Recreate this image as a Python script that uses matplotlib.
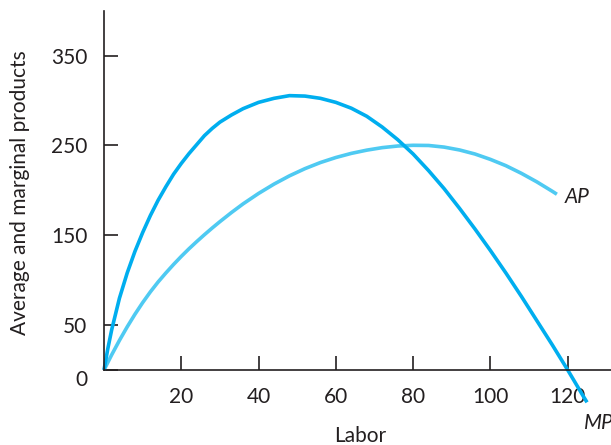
import matplotlib
matplotlib.use("Agg")
import matplotlib.pyplot as plt
import matplotlib.transforms as mtransforms

plt.rcParams["font.family"] = ["Lato", "DejaVu Sans"]

# Marginal product of labor
labor_mp = [0, 1, 2, 4, 6, 8, 10, 12, 14, 16, 18, 20, 22, 24, 26, 28, 30,
            33, 36, 40, 44, 48, 52, 56, 60, 64, 68, 72, 76, 80, 84, 88, 92,
            96, 100, 104, 108, 112, 116, 120, 124, 125]
mp = [0, 24, 45, 80, 108, 132, 153, 172, 189, 204, 218, 230, 241, 251, 261,
      269, 276, 284, 291, 298, 302.5, 305.5, 305, 302.5, 298, 291.5, 282.5,
      270.5, 256.5, 240.5, 222, 202, 180, 157, 133, 108, 82, 55, 28, 0, -29,
      -36]

# Average product of labor
labor_ap = [0, 2, 4, 6, 8, 10, 12, 14, 16, 18, 20, 22, 24, 26, 28, 30,
            33, 36, 40, 44, 48, 52, 56, 60, 64, 68, 72, 76, 80, 84, 88, 92,
            96, 100, 104, 108, 112, 116, 117.2]
ap = [0, 17, 33, 48, 62, 75, 87, 98, 108, 117.5, 126.5, 135, 143, 150.7,
      158.1, 165.2, 175.4, 185, 196.6, 207, 216.2, 224.2, 231, 236.6, 241.2,
      244.8, 247.6, 249.4, 250.2, 250, 248.2, 245, 240.5, 234.5, 227.5, 219,
      209.5, 199, 195.7]

x_ticks = [20, 40, 60, 80, 100, 120]
y_ticks = [0, 50, 150, 250, 350]

mp_color = "#00AEEF"
ap_color = "#4FCAF2"
ink = "#231F20"

fig = plt.figure(figsize=(6.11, 4.45), dpi=100)
ax = fig.add_axes([104 / 611, 0.0838, 1 - 104 / 611, 0.892])
ax.set_xlim(0, 131.2)
ax.set_ylim(-42, 400)

ax.plot(labor_ap, ap, color=ap_color, lw=2.6, solid_capstyle="butt",
        solid_joinstyle="round", clip_on=False)
ax.plot(labor_mp, mp, color=mp_color, lw=2.6, solid_capstyle="butt",
        solid_joinstyle="round", clip_on=False)

for side in ("top", "right"):
    ax.spines[side].set_visible(False)
ax.spines["bottom"].set_position(("data", 0))
ax.spines["left"].set_bounds(0, 400)
for side in ("bottom", "left"):
    ax.spines[side].set_linewidth(1.2)
    ax.spines[side].set_color(ink)

ax.set_xticks(x_ticks)
ax.set_yticks(y_ticks)
ax.set_yticklabels([str(v) for v in y_ticks])
ax.tick_params(direction="in", length=10, width=1.2, color=ink,
               labelsize=15, labelcolor=ink)
ax.tick_params(axis="x", pad=12)
ax.tick_params(axis="y", pad=12)

# nudge the "0" label slightly below the horizontal axis
zero_lbl = ax.get_yticklabels()[0]
zero_lbl.set_transform(zero_lbl.get_transform() +
                       mtransforms.ScaledTranslation(0, -8 / 100, fig.dpi_scale_trans))

fig.text(360 / 611, 1 - 436 / 445, "Labor", ha="center", va="center",
         fontsize=15, color=ink)
fig.text(20 / 611, 1 - 193 / 445, "Average and marginal products",
         rotation=90, ha="center", va="center", fontsize=15, color=ink)

fig.text(565 / 611, 1 - 197 / 445, "AP", style="italic", ha="left",
         va="center", fontsize=15, color=ink)
fig.text(584 / 611, 1 - 423 / 445, "MP", style="italic", ha="left",
         va="center", fontsize=15, color=ink)

fig.savefig("out.png", dpi=100)
